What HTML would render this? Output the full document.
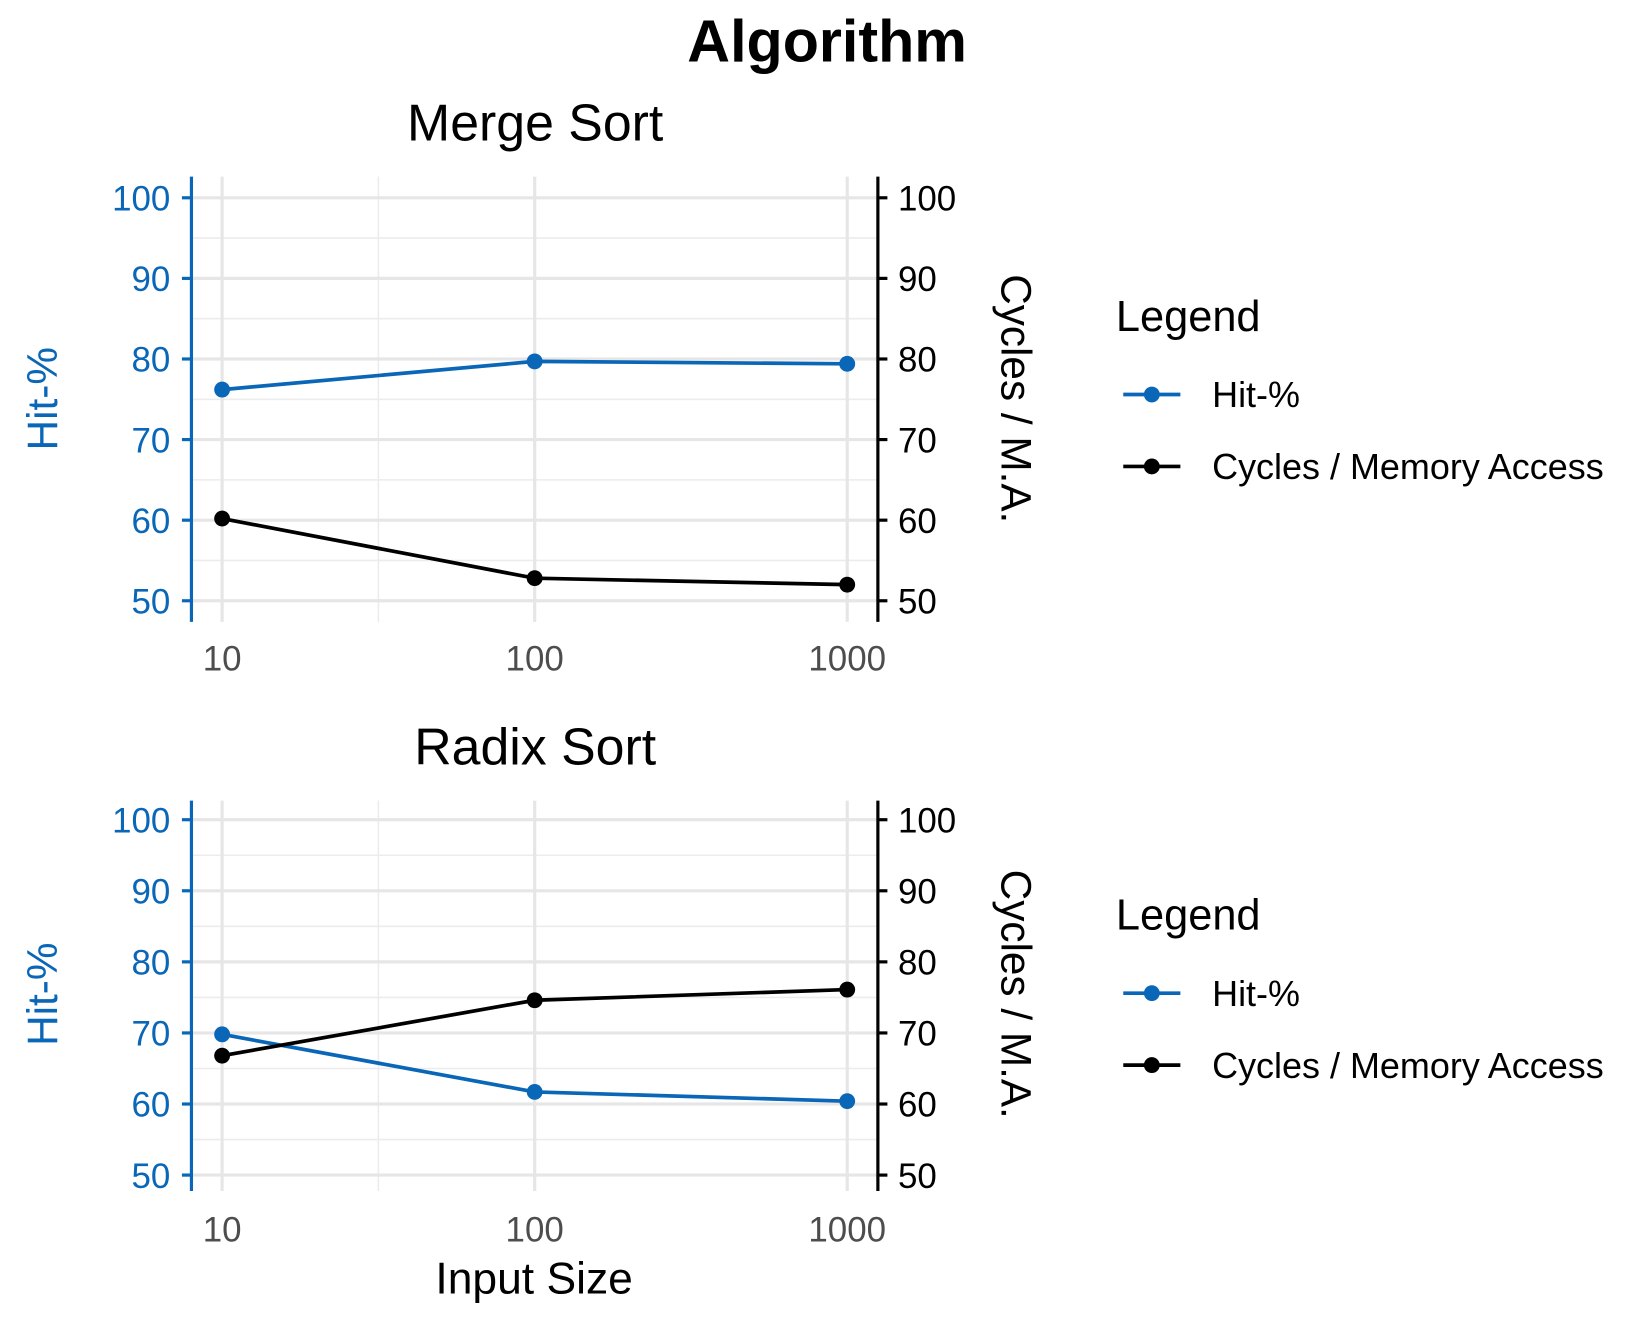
<!DOCTYPE html>
<html><head><meta charset="utf-8"><style>
html,body{margin:0;padding:0;background:#fff}
svg{display:block;font-family:"Liberation Sans",sans-serif}
</style></head><body>
<svg id="chart" width="1650" height="1320" viewBox="0 0 1560 1248" xmlns="http://www.w3.org/2000/svg">
<text x="782" y="58" text-anchor="middle" font-size="56" font-weight="bold">Algorithm</text>
<g id="panels"></g>
<text x="505" y="1223" text-anchor="middle" font-size="42">Input Size</text>
</svg>
<script>
const categories = [10, 100, 1000];
const panelTitles = ["Merge Sort", "Radix Sort"];
const mergeHit = [76.2, 79.7, 79.4];
const mergeCycles = [60.2, 52.8, 52.0];
const radixHit = [69.8, 61.7, 60.4];
const radixCycles = [66.8, 74.6, 76.1];
const yTicks = [50, 60, 70, 80, 90, 100];
const xTickLabels = ["10", "100", "1000"];
const legendLabels = ["Hit-%", "Cycles / Memory Access"];

const BLUE = "#0a66b7";
const NS = "http://www.w3.org/2000/svg";
const root = document.getElementById("panels");
function mk(tag, attrs, parent, text) {
  const e = document.createElementNS(NS, tag);
  for (const k in attrs) e.setAttribute(k, attrs[k]);
  if (text !== undefined) e.textContent = text;
  parent.appendChild(e);
  return e;
}
const layouts = [
  {titleY: 133, y100: 187, y50: 568, axTop: 167, axBot: 588, xLabY: 634, legY: 313, e1: 373, e2: 441, rtY: 377},
  {titleY: 723, y100: 775, y50: 1111, axTop: 757, axBot: 1126, xLabY: 1174, legY: 879, e1: 939, e2: 1007, rtY: 940}
];
const series = [[mergeHit, mergeCycles], [radixHit, radixCycles]];
const X0 = 181, X1 = 830;
function xs(v) { return 210 + (Math.log10(v) - 1) * (801 - 210) / 2; }

layouts.forEach((L, p) => {
  const g = mk("g", {}, root);
  
  
  const ys = v => L.y50 + (v - 50) * (L.y100 - L.y50) / 50;
  const t = mk("text", {x: 506, y: L.titleY, "text-anchor": "middle", "font-size": 49}, g, panelTitles[p]);
  
  
  for (let v = 55; v <= 95; v += 10) mk("line", {x1: X0, x2: X1, y1: ys(v), y2: ys(v), stroke: "#ececec", "stroke-width": 1.5}, g);
  mk("line", {x1: xs(Math.sqrt(1000)), x2: xs(Math.sqrt(1000)), y1: L.axTop, y2: L.axBot, stroke: "#ececec", "stroke-width": 1.5}, g);
  yTicks.forEach(v => mk("line", {x1: X0, x2: X1, y1: ys(v), y2: ys(v), stroke: "#e6e6e6", "stroke-width": 3}, g));
  categories.forEach(c => mk("line", {x1: xs(c), x2: xs(c), y1: L.axTop, y2: L.axBot, stroke: "#e6e6e6", "stroke-width": 3}, g));
  mk("line", {x1: X0, x2: X0, y1: L.axTop, y2: L.axBot, stroke: BLUE, "stroke-width": 3}, g);
  mk("line", {x1: X1, x2: X1, y1: L.axTop, y2: L.axBot, stroke: "#000", "stroke-width": 3}, g);
  yTicks.forEach(v => {
    mk("line", {x1: X0 - 9, x2: X0, y1: ys(v), y2: ys(v), stroke: BLUE, "stroke-width": 3}, g);
    mk("text", {x: 161, y: ys(v) + 12, "text-anchor": "end", "font-size": 33, fill: BLUE}, g, String(v));
    mk("line", {x1: X1, x2: X1 + 9, y1: ys(v), y2: ys(v), stroke: "#000", "stroke-width": 3}, g);
    mk("text", {x: 849, y: ys(v) + 12, "font-size": 33, fill: "#000"}, g, String(v));
  });
  categories.forEach((c, i) => mk("text", {x: xs(c), y: L.xLabY, "text-anchor": "middle", "font-size": 33, fill: "#4d4d4d"}, g, xTickLabels[i]));
  const lt = mk("text", {transform: `translate(54,${L.rtY}) rotate(-90)`, "text-anchor": "middle", "font-size": 40, fill: BLUE}, g, "Hit-%");
  
  
  const rt = mk("text", {transform: `translate(947,${L.rtY}) rotate(90)`, "text-anchor": "middle", "font-size": 40}, g, "Cycles / M.A.");
  
  
  const cols = [BLUE, "#000"];
  series[p].forEach((vals, si) => {
    const pts = vals.map((v, i) => xs(categories[i]) + "," + ys(v)).join(" ");
    const pl = mk("polyline", {points: pts, fill: "none", stroke: cols[si], "stroke-width": 3.5}, g);
    
    
    vals.forEach((v, i) => {
      const c = mk("circle", {cx: xs(categories[i]), cy: ys(v), r: 7.5, fill: cols[si]}, g);
      
      
    });
  });
  const lg = mk("g", {}, g);
  
  
  mk("text", {x: 1055, y: L.legY, "font-size": 41}, lg, "Legend");
  [L.e1, L.e2].forEach((ey, i) => {
    const en = mk("g", {}, lg);
    
    
    mk("line", {x1: 1062, x2: 1116, y1: ey, y2: ey, stroke: cols[i], "stroke-width": 3.5}, en);
    mk("circle", {cx: 1089, cy: ey, r: 7.5, fill: cols[i]}, en);
    mk("text", {x: 1146, y: ey + 12, "font-size": 34}, en, legendLabels[i]);
  });
});
</script>
</body></html>
